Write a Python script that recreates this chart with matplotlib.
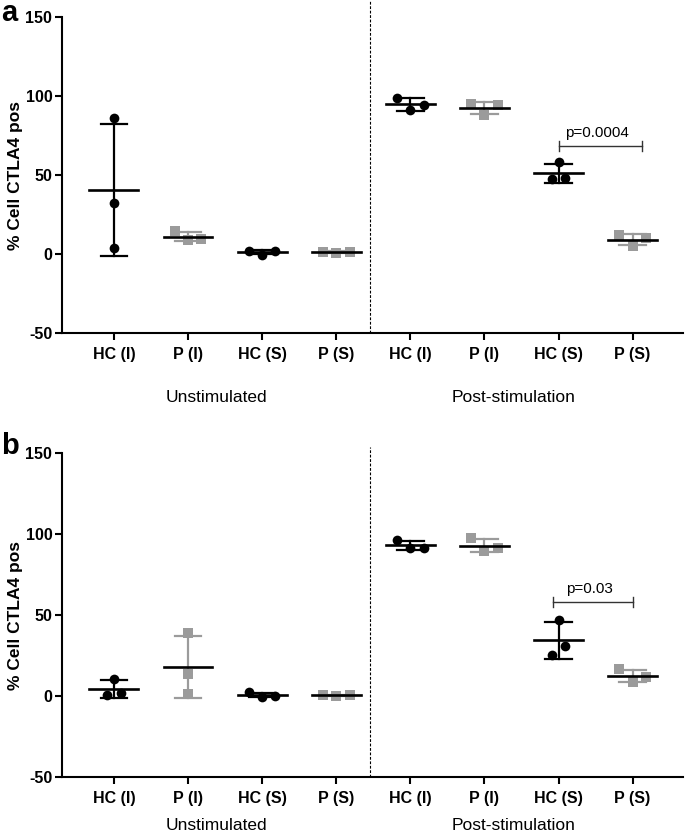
import numpy as np
import matplotlib
matplotlib.use('Agg')
import matplotlib.pyplot as plt

plt.rcParams['font.family'] = ['Liberation Sans', 'DejaVu Sans']
plt.rcParams['axes.unicode_minus'] = False

#data (3 donors per group)
groups = ['HC (I)', 'P (I)', 'HC (S)', 'P (S)']
conditions = ['Unstimulated', 'Post-stimulation']

a_unstim = [[86, 32, 4], [14.5, 9, 9.5], [2.2, -0.5, 2.0], [1.5, 0.8, 1.5]]
a_post = [[99, 91, 94], [95, 88, 94.5], [47.3, 58, 47.9], [11.8, 5.3, 9.9]]
b_unstim = [[0.6, 10.5, 2.0], [39, 13.5, 1.5], [2.3, -0.4, 0.2], [0.8, 0.0, 0.5]]
b_post = [[96.3, 91.4, 91.4], [97.7, 89.5, 91.5], [25.1, 46.9, 30.9], [16.5, 8.8, 11.9]]

p_a = 'p=0.0004'
p_b = 'p=0.03'

W, H = 685, 835
black = 'black'
grey = '#9b9b9b'


def spread(vals, thr=7, step=0.18):
    #groups points that would overlap and spreads them sideways
    vals = np.asarray(vals, dtype=float)
    order = np.argsort(vals)
    clusters = [[order[0]]]
    for i in order[1:]:
        if vals[i] - vals[clusters[-1][-1]] < thr:
            clusters[-1].append(i)
        else:
            clusters.append([i])
    offs = np.zeros(len(vals))
    for c in clusters:
        c = sorted(c)
        n = len(c)
        for k, idx in enumerate(c):
            offs[idx] = (k - (n - 1) / 2) * step
    return offs


def draw_panel(rect_px, unstim, post, ptxt, bracket, letter, letter_y, cond_y, vtop):
    left, top, right, bottom = rect_px
    ax = fig.add_axes([left / W, 1 - bottom / H, (right - left) / W, (bottom - top) / H])
    data = unstim + post
    for i, vals in enumerate(data):
        is_p = groups[i % 4].startswith('P')
        col = grey if is_p else black
        mk = 's' if is_p else 'o'
        x = i + spread(vals)
        ax.plot(x, vals, mk, color=col, ms=7, mew=0, zorder=2, clip_on=False)
        m = np.mean(vals)
        sd = np.std(vals, ddof=1)
        ax.plot([i, i], [m - sd, m + sd], color=col, lw=1.6, zorder=3)
        for yy in (m - sd, m + sd):
            ax.plot([i - 0.18, i + 0.18], [yy, yy], color=col, lw=1.6, zorder=3)
        ax.plot([i - 0.33, i + 0.33], [m, m], color=black, lw=1.9, zorder=4)

    ax.set_xlim(-0.70, 7.68)
    ax.set_ylim(-50, 150)
    ax.set_yticks([-50, 0, 50, 100, 150])
    ax.set_xticks(range(8))
    ax.set_xticklabels(groups * 2)
    for s in ['top', 'right']:
        ax.spines[s].set_visible(False)
    for s in ['left', 'bottom']:
        ax.spines[s].set_linewidth(1.5)
    ax.tick_params(width=1.5, length=5, labelsize=11.5, pad=2)
    ax.tick_params(axis='x', pad=5)
    for t in ax.get_xticklabels() + ax.get_yticklabels():
        t.set_fontweight('bold')
    ax.set_ylabel('% Cell CTLA4 pos', fontsize=12.5, fontweight='bold')
    ax.yaxis.set_label_coords((23 - left) / (right - left), 0.5)

    ax.axvline(3.46, ymin=0, ymax=vtop, color=black, lw=0.8, ls=(0, (2.5, 1.5)), clip_on=False)

    #significance bracket
    x0, x1, yb = bracket
    ax.plot([x0, x1], [yb, yb], color='#333333', lw=1)
    for xx in (x0, x1):
        ax.plot([xx, xx], [yb - 3, yb + 3], color='#333333', lw=1)
    ax.text((x0 + x1) / 2 - 0.05, yb + 3.5, ptxt, ha='center', va='bottom', fontsize=11)

    fig.text(1 / W, 1 - letter_y / H, letter, fontsize=21, fontweight='bold', ha='left', va='center')
    for j, c in enumerate(conditions):
        xd = 1.39 + 4.0 * j
        xf = (left + (xd + 0.70) / 8.38 * (right - left)) / W
        fig.text(xf, 1 - cond_y / H, c, fontsize=12.5, ha='center', va='center')
    return ax


fig = plt.figure(figsize=(W / 100, H / 100), dpi=100)
draw_panel((62, 17, 683, 333), a_unstim, a_post, p_a, (6.01, 7.13, 68.4), 'a', 13, 397, 1.054)
draw_panel((62, 453, 683, 777), b_unstim, b_post, p_b, (5.93, 7.01, 58.2), 'b', 446, 826, 1.018)
fig.savefig('out.png', dpi=100)
